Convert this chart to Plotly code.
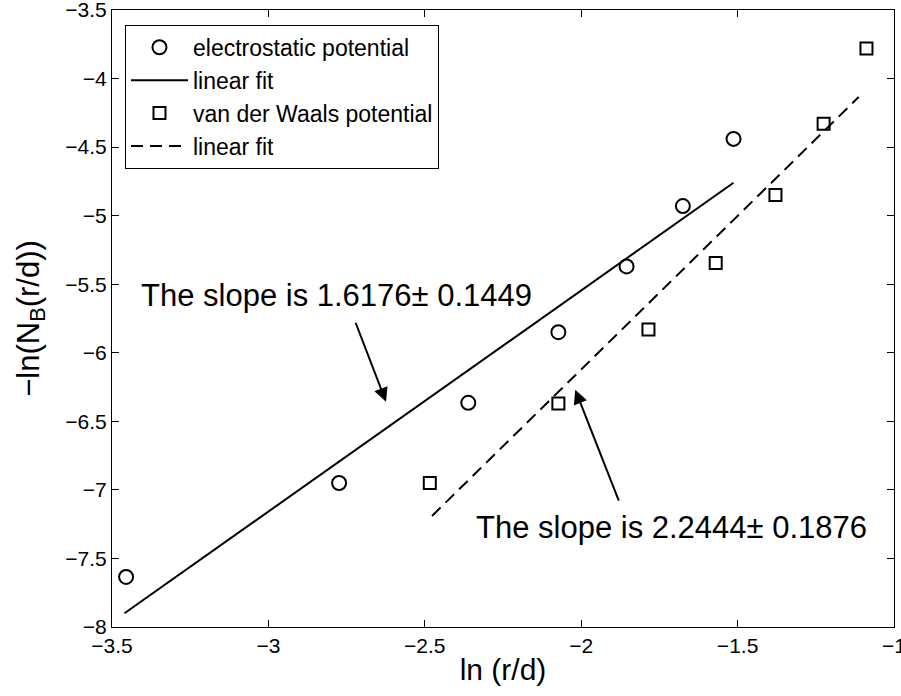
import plotly.graph_objects as go

# Data
elec_x = [-3.455, -2.774, -2.361, -2.073, -1.855, -1.675, -1.513]
elec_y = [-7.635, -6.950, -6.365, -5.850, -5.370, -4.930, -4.440]
vdw_x = [-2.484, -2.073, -1.785, -1.570, -1.379, -1.225, -1.088]
vdw_y = [-6.950, -6.370, -5.830, -5.345, -4.850, -4.330, -3.780]
fit1_x = [-3.46, -1.513]
fit1_y = [-7.90, -4.76]
fit2_x = [-2.477, -1.113]
fit2_y = [-7.19, -4.135]

x_ticks = [-3.5, -3, -2.5, -2, -1.5, -1]
x_tick_text = ["−3.5", "−3", "−2.5", "−2", "−1.5", "−1"]
y_ticks = [-8, -7.5, -7, -6.5, -6, -5.5, -5, -4.5, -4, -3.5]
y_tick_text = ["−8", "−7.5", "−7", "−6.5", "−6", "−5.5", "−5", "−4.5", "−4", "−3.5"]

label1 = "The slope is 1.6176± 0.1449"
label2 = "The slope is 2.2444± 0.1876"

FONT = "Arial, Liberation Sans, Helvetica, sans-serif"

fig = go.Figure()
fig.add_trace(go.Scatter(x=elec_x, y=elec_y, mode="markers", name="electrostatic potential",
                         marker=dict(symbol="circle-open", size=14, color="black",
                                     line=dict(width=2, color="black"))))
fig.add_trace(go.Scatter(x=fit1_x, y=fit1_y, mode="lines", name="linear fit",
                         line=dict(color="black", width=2)))
fig.add_trace(go.Scatter(x=vdw_x, y=vdw_y, mode="markers", name="van der Waals potential",
                         marker=dict(symbol="square-open", size=12, color="black",
                                     line=dict(width=2, color="black"))))
fig.add_trace(go.Scatter(x=fit2_x, y=fit2_y, mode="lines", name="linear fit",
                         line=dict(color="black", width=2, dash="12px,7px")))

# Arrows
fig.add_annotation(x=-2.624, y=-6.357, ax=-2.723, ay=-5.77, xref="x", yref="y",
                   axref="x", ayref="y", showarrow=True, arrowhead=2, arrowsize=1.4,
                   arrowwidth=2, arrowcolor="black", text="")
fig.add_annotation(x=-2.019, y=-6.27, ax=-1.878, ay=-7.09, xref="x", yref="y",
                   axref="x", ayref="y", showarrow=True, arrowhead=2, arrowsize=1.4,
                   arrowwidth=2, arrowcolor="black", text="")
# Labels
fig.add_annotation(x=-2.781, y=-5.579, xref="x", yref="y", text=label1, showarrow=False,
                   font=dict(family=FONT, size=31, color="black"))
fig.add_annotation(x=-1.711, y=-7.271, xref="x", yref="y", text=label2, showarrow=False,
                   font=dict(family=FONT, size=31, color="black"))

axis_common = dict(showline=True, linecolor="black", linewidth=1, mirror="ticks",
                   ticks="inside", ticklen=7, tickcolor="black", tickwidth=1,
                   showgrid=False, zeroline=False, automargin=False,
                   ticklabeloverflow="allow",
                   tickfont=dict(family=FONT, size=21, color="black"))

fig.update_layout(
    width=901, height=696,
    margin=dict(l=112, r=7, t=10, b=69),
    paper_bgcolor="white", plot_bgcolor="white",
    font=dict(family=FONT, color="black"),
    xaxis=dict(range=[-3.5, -1], tickvals=x_ticks, ticktext=x_tick_text,
               title=dict(text="ln (r/d)", font=dict(family=FONT, size=30), standoff=2),
               **axis_common),
    yaxis=dict(range=[-8, -3.5], tickvals=y_ticks, ticktext=y_tick_text,
               title=dict(text="−ln(N<sub>B</sub>(r/d))", font=dict(family=FONT, size=31), standoff=16),
               **axis_common),
    legend=dict(x=0.0166, y=0.976, xanchor="left", yanchor="top",
                bordercolor="black", borderwidth=1, bgcolor="white",
                font=dict(family=FONT, size=23, color="black"),
                itemwidth=57, traceorder="normal",
                itemclick=False),
    showlegend=True,
)

fig.write_html("out.html")
